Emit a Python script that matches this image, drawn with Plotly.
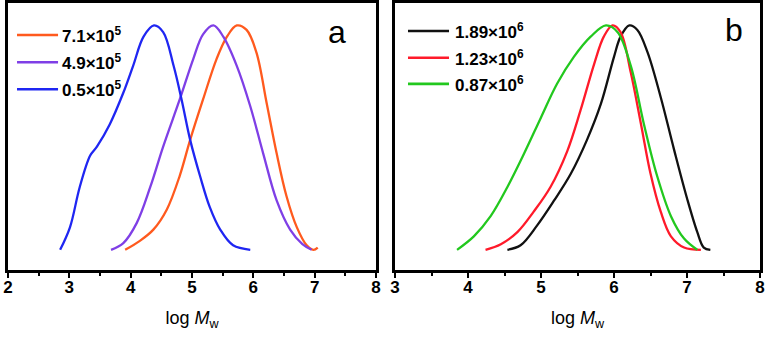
import plotly.graph_objects as go

# ---- data ----
a_names = ["7.1×10<sup>5</sup>", "4.9×10<sup>5</sup>", "0.5×10<sup>5</sup>"]
a_colors = ["#FF5A1E", "#7F3FE6", "#1F26F2"]

a1_x = [3.91, 4.15, 4.37, 4.59, 4.80, 4.97, 5.18, 5.40, 5.57, 5.73, 5.89, 6.05, 6.22, 6.38, 6.54, 6.71, 6.87, 6.98, 7.05]
a1_y = [0.0, 0.04, 0.09, 0.18, 0.33, 0.49, 0.67, 0.85, 0.95, 1.0, 0.98, 0.88, 0.65, 0.43, 0.24, 0.10, 0.02, 0.0, 0.01]

a2_x = [3.68, 3.88, 4.10, 4.32, 4.53, 4.80, 5.02, 5.18, 5.35, 5.51, 5.73, 5.95, 6.16, 6.38, 6.60, 6.80, 6.95]
a2_y = [0.0, 0.03, 0.12, 0.28, 0.46, 0.67, 0.85, 0.96, 1.0, 0.95, 0.82, 0.64, 0.43, 0.22, 0.09, 0.025, 0.0]

a3_x = [2.85, 3.01, 3.17, 3.34, 3.45, 3.66, 3.88, 4.04, 4.21, 4.38, 4.53, 4.70, 4.83, 4.97, 5.13, 5.29, 5.46, 5.67, 5.95]
a3_y = [0.0, 0.10, 0.28, 0.42, 0.46, 0.56, 0.70, 0.82, 0.95, 1.0, 0.97, 0.82, 0.67, 0.49, 0.33, 0.19, 0.09, 0.02, 0.0]

b_names = ["1.89×10<sup>6</sup>", "1.23×10<sup>6</sup>", "0.87×10<sup>6</sup>"]
b_colors = ["#111111", "#FF1A2A", "#22C81E"]

b1_x = [4.54, 4.72, 4.95, 5.18, 5.41, 5.63, 5.82, 6.00, 6.09, 6.21, 6.32, 6.46, 6.64, 6.82, 7.00, 7.14, 7.23, 7.32]
b1_y = [0.0, 0.02, 0.11, 0.22, 0.34, 0.49, 0.65, 0.86, 0.95, 1.0, 0.98, 0.88, 0.68, 0.45, 0.23, 0.08, 0.01, 0.0]

b2_x = [4.24, 4.45, 4.68, 4.90, 5.13, 5.36, 5.54, 5.73, 5.86, 5.98, 6.09, 6.23, 6.37, 6.50, 6.64, 6.78, 6.96, 7.19]
b2_y = [0.0, 0.025, 0.08, 0.17, 0.28, 0.44, 0.62, 0.83, 0.95, 1.0, 0.97, 0.79, 0.56, 0.34, 0.17, 0.06, 0.01, 0.0]

b3_x = [3.85, 4.08, 4.31, 4.54, 4.77, 5.00, 5.22, 5.45, 5.68, 5.89, 6.05, 6.23, 6.41, 6.59, 6.78, 6.96, 7.14]
b3_y = [0.0, 0.06, 0.15, 0.28, 0.43, 0.59, 0.74, 0.86, 0.95, 1.0, 0.97, 0.82, 0.56, 0.33, 0.15, 0.05, 0.0]

a_series = [(a1_x, a1_y), (a2_x, a2_y), (a3_x, a3_y)]
b_series = [(b1_x, b1_y), (b2_x, b2_y), (b3_x, b3_y)]

panel_labels = ["a", "b"]
a_xrange = [2, 8]
b_xrange = [3, 8]
y_range = [-0.09, 1.10]
x_title = "log <i>M</i><sub>w</sub>"

FONT = "Liberation Sans, Arial, sans-serif"

fig = go.Figure()
for (xs, ys), c, n in zip(a_series, a_colors, a_names):
    fig.add_trace(go.Scatter(x=xs, y=ys, mode="lines", line=dict(color=c, width=2.3, shape="spline", smoothing=1.0),
                             name=n, xaxis="x", yaxis="y", showlegend=False))
for (xs, ys), c, n in zip(b_series, b_colors, b_names):
    fig.add_trace(go.Scatter(x=xs, y=ys, mode="lines", line=dict(color=c, width=2.3, shape="spline", smoothing=1.0),
                             name=n, xaxis="x2", yaxis="y2", showlegend=False))

axis_common = dict(showline=True, mirror=True, linecolor="black", linewidth=2.5, showgrid=False, zeroline=False,
                   automargin=False)
xcommon = dict(axis_common, ticks="outside", ticklen=5, tickwidth=2, tickcolor="black",
               tickfont=dict(family=FONT, size=17, color="black", weight="bold"), dtick=1,
               ticklabelstandoff=-5,
               minor=dict(ticks="outside", ticklen=3, tickwidth=2, dtick=0.5, tickcolor="black"),
               title=dict(text=x_title, font=dict(family=FONT, size=18, color="black"), standoff=16))
ycommon = dict(axis_common, showticklabels=False, ticks="", range=y_range)

fig.update_layout(
    width=768, height=337,
    margin=dict(l=0, r=0, t=0, b=0),
    paper_bgcolor="white", plot_bgcolor="white",
    xaxis=dict(xcommon, domain=[8/768, 376/768], range=a_xrange, tick0=2),
    yaxis=dict(ycommon, domain=[1-270/337, 1-3/337], anchor="x"),
    xaxis2=dict(xcommon, domain=[395/768, 760/768], range=b_xrange, tick0=3),
    yaxis2=dict(ycommon, domain=[1-270/337, 1-3/337], anchor="x2"),
)

# legends (line samples + labels) drawn inside each panel
def add_legend(names, colors, xref, yref, x0, x1, xt, ys):
    for n, c, yy in zip(names, colors, ys):
        fig.add_shape(type="line", xref=xref, yref=yref, x0=x0, x1=x1, y0=yy, y1=yy,
                      line=dict(color=c, width=2.6))
        fig.add_annotation(xref=xref, yref=yref, x=xt, y=yy, text=n, showarrow=False,
                           xanchor="left", yanchor="middle",
                           font=dict(family=FONT, size=17, color="black", weight="bold"))

add_legend(a_names, a_colors, "x domain", "y domain", 0.0245, 0.136, 0.142, [0.880, 0.778, 0.677])
add_legend(b_names, b_colors, "x2 domain", "y2 domain", 0.0356, 0.148, 0.160, [0.895, 0.795, 0.697])

fig.add_annotation(xref="x domain", yref="y domain", x=0.894, y=0.89, text=panel_labels[0], showarrow=False,
                   font=dict(family=FONT, size=32, color="black"), xanchor="center", yanchor="middle")
fig.add_annotation(xref="x2 domain", yref="y2 domain", x=0.929, y=0.90, text=panel_labels[1], showarrow=False,
                   font=dict(family=FONT, size=32, color="black"), xanchor="center", yanchor="middle")

fig.write_html("out.html", post_script="document.body.style.margin='0';",
               config={"displayModeBar": False})
